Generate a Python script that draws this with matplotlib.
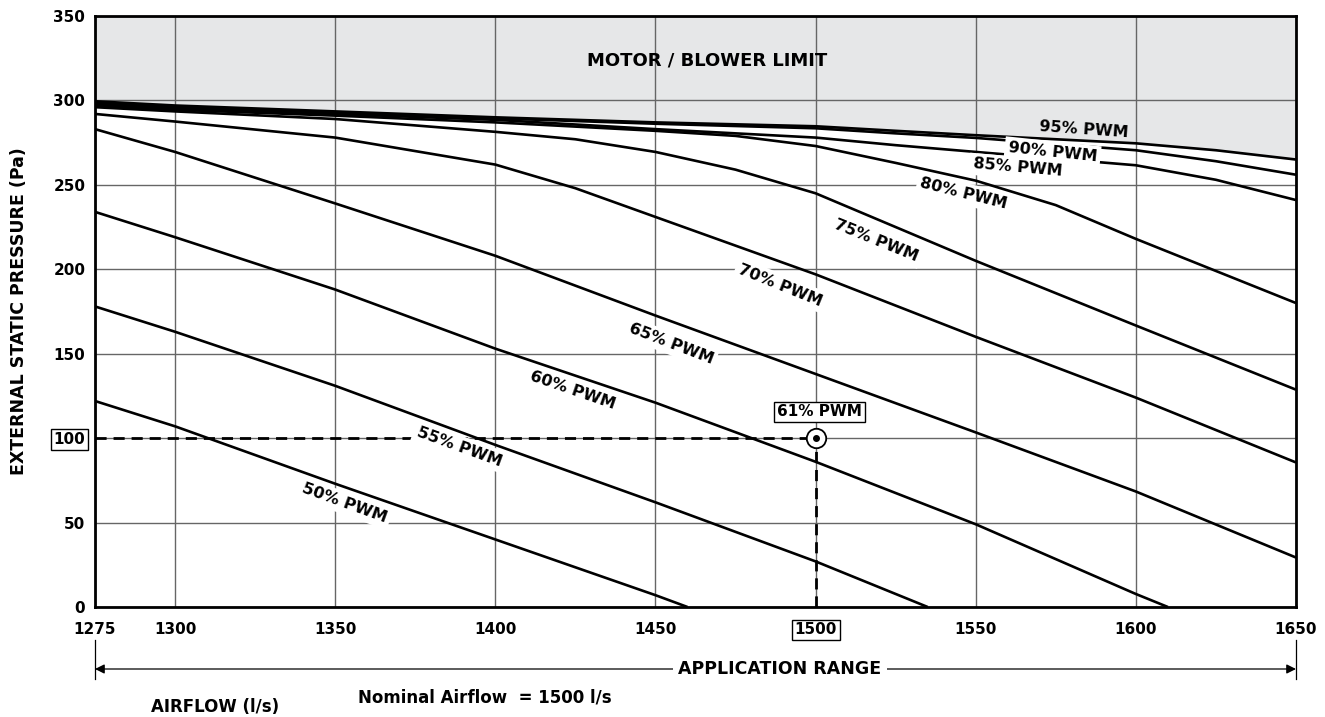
import matplotlib.pyplot as plt

# Fan curves: airflow (l/s) vs external static pressure (Pa)
x_95 = [1275, 1300, 1350, 1400, 1450, 1500, 1525, 1550, 1600, 1625, 1650]
y_95 = [299.5, 297, 293.5, 290, 287, 284.7, 282, 279.4, 274.6, 270.5, 265]
x_90 = [1275, 1300, 1350, 1400, 1450, 1500, 1525, 1550, 1600, 1625, 1650]
y_90 = [298.8, 296.3, 292.8, 289.4, 286.2, 283.5, 280.5, 277.8, 270.5, 264, 256]
x_85 = [1275, 1300, 1350, 1400, 1450, 1500, 1525, 1550, 1600, 1625, 1650]
y_85 = [298, 295.5, 292, 288.5, 283, 278, 273.5, 269.5, 261.6, 253, 241]
x_80 = [1275, 1300, 1350, 1400, 1450, 1475, 1500, 1525, 1550, 1575, 1600, 1625, 1650]
y_80 = [297, 294.5, 291, 287, 282, 279, 273, 263, 252.5, 238, 218, 199, 180]
x_75 = [1275, 1300, 1350, 1400, 1425, 1450, 1475, 1500, 1525, 1550, 1600, 1650]
y_75 = [296, 293.5, 289, 281.4, 277, 269.5, 259, 245, 225, 205, 166.7, 128.7]
x_70 = [1275, 1300, 1350, 1400, 1425, 1450, 1500, 1550, 1600, 1650]
y_70 = [292, 287.5, 278, 262, 248, 231, 197, 160, 124, 85.6]
x_65 = [1275, 1300, 1350, 1400, 1450, 1500, 1550, 1600, 1650]
y_65 = [283, 269.5, 239, 208, 172.6, 138, 103.4, 68.4, 29.3]
x_60 = [1275, 1300, 1350, 1400, 1450, 1500, 1550, 1600, 1610]
y_60 = [234, 219, 188, 153, 121, 86, 49, 7.7, 0]
x_55 = [1275, 1300, 1350, 1400, 1450, 1500, 1535]
y_55 = [178, 163, 131, 96, 62, 27, 0]
x_50 = [1275, 1300, 1350, 1400, 1450, 1460]
y_50 = [122, 107, 73, 40, 7, 0]

curves = [(x_95, y_95), (x_90, y_90), (x_85, y_85), (x_80, y_80), (x_75, y_75),
          (x_70, y_70), (x_65, y_65), (x_60, y_60), (x_55, y_55), (x_50, y_50)]

# label text, x, y, rotation
curve_labels = ['95% PWM', '90% PWM', '85% PWM', '80% PWM', '75% PWM',
                '70% PWM', '65% PWM', '60% PWM', '55% PWM', '50% PWM']
label_x = [1583.8, 1574, 1563, 1546.3, 1519, 1489, 1454.8, 1424.3, 1388.7, 1353]
label_y = [282.7, 269.3, 260.1, 244.7, 217, 190.5, 156, 128.1, 95, 61.4]
label_rot = [-4, -6, -5, -14, -22, -22, -21, -19, -20, -20]

x_ticks = [1275, 1300, 1350, 1400, 1450, 1500, 1550, 1600, 1650]
y_ticks = [0, 50, 100, 150, 200, 250, 300, 350]

duty_airflow = 1500
duty_pressure = 100

fig = plt.figure(figsize=(13.25, 7.17), dpi=100)
ax = fig.add_axes([95 / 1325, 1 - 607 / 717, (1296 - 95) / 1325, (607 - 16) / 717])
ax.set_xlim(1275, 1650)
ax.set_ylim(0, 350)

# motor / blower limit zone
ax.fill_between(x_95, y_95, 350, color='#e6e7e8', zorder=0)

ax.set_xticks(x_ticks)
ax.set_yticks(y_ticks)
ax.grid(True, color='#666666', lw=1.0, zorder=1)
ax.tick_params(length=0, labelsize=11)
ax.tick_params(axis='x', pad=11)
ax.tick_params(axis='y', pad=7)
for lab in ax.get_xticklabels() + ax.get_yticklabels():
    lab.set_fontweight('bold')
for s in ax.spines.values():
    s.set_linewidth(2)
    s.set_zorder(6)

for xs, ys in curves:
    ax.plot(xs, ys, color='black', lw=1.9, zorder=3, solid_capstyle='butt')

for i, txt in enumerate(curve_labels):
    fc = 'none' if i == 0 else 'white'
    ax.text(label_x[i], label_y[i], txt, rotation=label_rot[i], ha='center', va='center',
            fontsize=11.5, fontweight='bold', zorder=4,
            bbox=dict(facecolor=fc, edgecolor='none', pad=2.5), rotation_mode='anchor')

ax.text(1466, 323.5, 'MOTOR / BLOWER LIMIT', ha='center', va='center',
        fontsize=13, fontweight='bold', zorder=4)

# duty point
ax.plot([1275, duty_airflow], [duty_pressure, duty_pressure], color='black', lw=2,
        dashes=(4, 2.5), zorder=3)
ax.plot([duty_airflow, duty_airflow], [0, duty_pressure], color='black', lw=2,
        dashes=(4, 2.5), zorder=3)
ax.plot(duty_airflow, duty_pressure, 'o', ms=14, mfc='white', mec='black', mew=1.3, zorder=5)
ax.plot(duty_airflow, duty_pressure, 'o', ms=4, color='black', zorder=6)
ax.text(1501.2, 115.6, '61% PWM', ha='center', va='center', fontsize=11, fontweight='bold',
        zorder=5, bbox=dict(facecolor='white', edgecolor='black', lw=1, pad=2))

# boxed tick labels
fig.canvas.draw()
for lab in ax.get_xticklabels():
    if lab.get_text() == '1500':
        lab.set_bbox(dict(facecolor='white', edgecolor='black', lw=1, pad=2))
for lab in ax.get_yticklabels():
    if lab.get_text() == '100':
        lab.set_bbox(dict(facecolor='white', edgecolor='black', lw=1, pad=2))

ax.set_ylabel('EXTERNAL STATIC PRESSURE (Pa)', fontsize=12.5, fontweight='bold', labelpad=18)

# application range arrow
y_arr = 1 - 669 / 717
x_left = 95 / 1325
x_right = 1296 / 1325
for xv in (x_left, x_right):
    fig.add_artist(plt.Line2D([xv, xv], [1 - 640 / 717, 1 - 679 / 717], color='black', lw=0.9))
ax.annotate('', xy=(x_left, y_arr), xytext=(780 / 1325, y_arr), xycoords='figure fraction',
            arrowprops=dict(arrowstyle='-|>', color='black', lw=0.9, mutation_scale=14,
                            shrinkA=0, shrinkB=0))
ax.annotate('', xy=(x_right, y_arr), xytext=(780 / 1325, y_arr), xycoords='figure fraction',
            arrowprops=dict(arrowstyle='-|>', color='black', lw=0.9, mutation_scale=14,
                            shrinkA=0, shrinkB=0))
fig.text(780 / 1325, y_arr, 'APPLICATION RANGE', ha='center', va='center', fontsize=12.5,
         fontweight='bold', bbox=dict(facecolor='white', edgecolor='none', pad=4))

fig.text(215 / 1325, 1 - 707 / 717, 'AIRFLOW (l/s)', ha='center', va='center',
         fontsize=12, fontweight='bold')
fig.text(485 / 1325, 1 - 697 / 717, 'Nominal Airflow  = 1500 l/s', ha='center', va='center',
         fontsize=12, fontweight='bold')

fig.savefig('out.png', dpi=100)
